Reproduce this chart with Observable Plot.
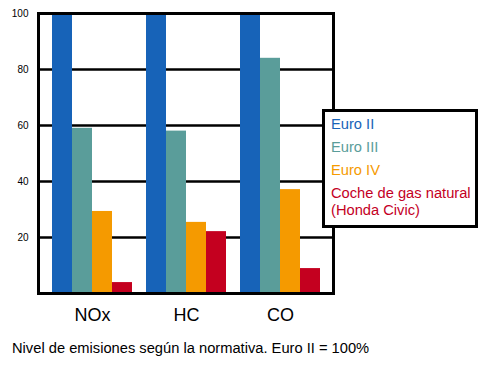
<!DOCTYPE html>
<html><head><meta charset="utf-8">
<script src="https://cdn.jsdelivr.net/npm/d3@7"></script>
<script src="https://cdn.jsdelivr.net/npm/@observablehq/plot@0.6"></script>
<style>
body{margin:0;background:#fff;font-family:"Liberation Sans",Arial,sans-serif;}
#wrap{position:relative;width:487px;height:368px;overflow:hidden;background:#fff;}
#wrap svg{position:absolute;left:0;top:0;}
#legend{position:absolute;left:322px;top:109px;width:156px;height:119px;box-sizing:border-box;border:3px solid #000;background:#fff;padding:3.5px 0 0 6px;font-size:14.7px;}
#legend div{line-height:17.5px;margin-bottom:5.5px;white-space:pre;}
#caption{position:absolute;left:12px;top:340px;font-size:14.7px;line-height:16px;color:#000;white-space:nowrap;}
</style></head><body><div id="wrap"></div>
<script>
const pollutants = ["NOx", "HC", "CO"];
const series = ["Euro II", "Euro III", "Euro IV", "Coche de gas natural\n(Honda Civic)"];
const euroII = [100, 100, 100];
const euroIII = [59, 58, 84];
const euroIV = [29.3, 25.4, 37.1];
const gasNatural = [3.9, 22.1, 8.9];
const yTicks = [20, 40, 60, 80, 100];
const gridValues = [20, 40, 60, 80];
const colors = ["#1763b8", "#5a9d9a", "#f59a00", "#c4001f"];
const captionText = "Nivel de emisiones según la normativa. Euro II = 100%";

const seriesValues = [euroII, euroIII, euroIV, gasNatural];
const data = [];
pollutants.forEach((p, i) => series.forEach((s, j) => data.push({pollutant: p, series: s, value: seriesValues[j][i]})));

const common = {width: 487, height: 330, marginLeft: 38, marginRight: 154, marginTop: 13, marginBottom: 37};
const groupScale = {domain: pollutants, type: "band", paddingInner: 0.128, paddingOuter: 0.133, align: 0.5};
const font = "'Liberation Sans', Arial, sans-serif";
const wrap = document.getElementById("wrap");

const back = Plot.plot({
  ...common,
  style: {background: "transparent", fontFamily: font, color: "black"},
  x: {...groupScale, axis: null},
  y: {domain: [0, 100], axis: null},
  marks: [
    Plot.ruleY(gridValues, {stroke: "black", strokeWidth: 2.5}),
    Plot.axisY(yTicks, {tickSize: 0, tickPadding: 10, fontSize: 10, fill: "black", label: null}),
    Plot.axisX(pollutants, {tickSize: 0, tickPadding: 15, fontSize: 18, fill: "black", label: null})
  ]
});

const bars = Plot.plot({
  ...common,
  style: {background: "transparent"},
  fx: {...groupScale, axis: null, label: null},
  x: {domain: series, padding: 0, axis: null},
  y: {domain: [0, 100], axis: null},
  color: {domain: series, range: colors},
  marks: [
    Plot.barY(data, {fx: "pollutant", x: "series", y: "value", fill: "series"})
  ]
});

const frame = Plot.plot({
  ...common,
  style: {background: "transparent"},
  x: {domain: [0, 1], axis: null},
  y: {domain: [0, 100], axis: null},
  marks: [Plot.frame({stroke: "black", strokeWidth: 3})]
});

wrap.append(back, bars, frame);

const legend = document.createElement("div");
legend.id = "legend";
series.forEach((s, j) => {
  const d = document.createElement("div");
  d.textContent = s;
  d.style.color = colors[j];
  legend.append(d);
});
wrap.append(legend);

const cap = document.createElement("div");
cap.id = "caption";
cap.textContent = captionText;
wrap.append(cap);
</script>
</body></html>
